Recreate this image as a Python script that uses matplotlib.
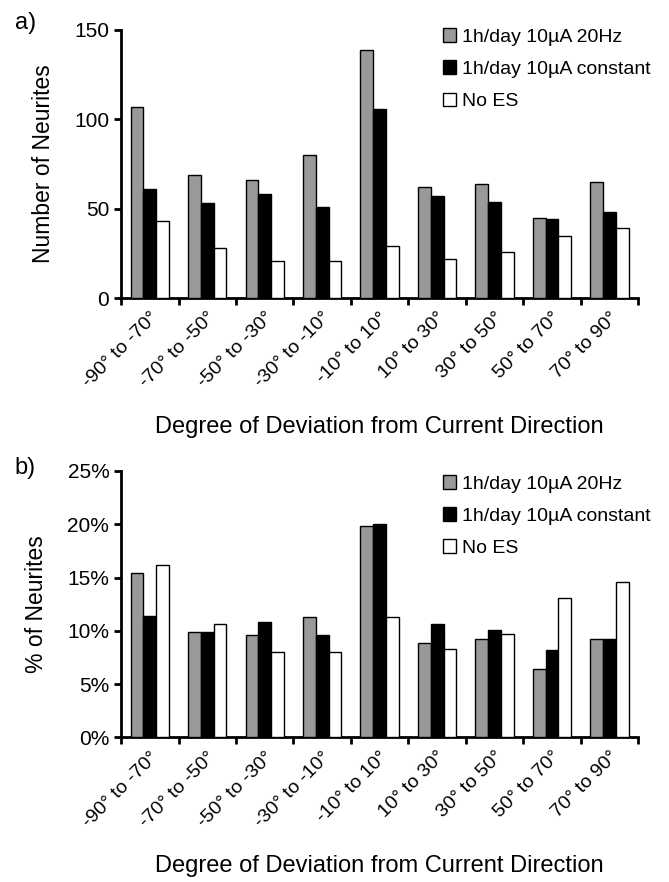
import numpy as np
import matplotlib.pyplot as plt

plt.rcParams['font.family'] = ['Liberation Sans', 'DejaVu Sans']

categories = ["-90° to -70°", "-70° to -50°", "-50° to -30°", "-30° to -10°",
              "-10° to 10°", "10° to 30°", "30° to 50°", "50° to 70°", "70° to 90°"]
series_names = ["1h/day 10µA 20Hz", "1h/day 10µA constant", "No ES"]

# panel a) counts
count_20hz = [107, 69, 66, 80, 139, 62, 64, 45, 65]
count_const = [61, 53, 58, 51, 106, 57, 54, 44, 48]
count_noes = [43, 28, 21, 21, 29, 22, 26, 35, 39]

# panel b) percent
pct_20hz = [15.4, 9.9, 9.6, 11.3, 19.8, 8.9, 9.2, 6.4, 9.2]
pct_const = [11.4, 9.9, 10.8, 9.6, 20.0, 10.6, 10.1, 8.2, 9.2]
pct_noes = [16.2, 10.6, 8.0, 8.0, 11.3, 8.3, 9.7, 13.1, 14.6]

colors = ['#999999', '#000000', '#ffffff']

fig = plt.figure(figsize=(6.69, 8.82), dpi=100)
ax1 = fig.add_axes([0.181, 0.662, 0.773, 0.304])
ax2 = fig.add_axes([0.181, 0.164, 0.773, 0.302])

x = np.arange(len(categories)) + 0.5
w = 0.223


def draw(ax, data, yticks, yfmt, ylabel, legend_y):
    for k, vals in enumerate(data):
        ax.bar(x + (k - 1) * w, vals, w, color=colors[k], edgecolor='black',
               linewidth=1.0, label=series_names[k], zorder=3)
    ax.set_xlim(0, len(categories))
    ax.set_ylim(yticks[0], yticks[-1])
    ax.set_yticks(yticks)
    ax.set_yticklabels([yfmt(v) for v in yticks], fontsize=15)
    ax.set_xticks(np.arange(len(categories) + 1))
    ax.set_xticklabels([])
    ax.set_xticks(x, minor=True)
    ax.set_xticklabels(categories, minor=True, rotation=45, ha='right',
                       va='top', rotation_mode='anchor', fontsize=14)
    ax.tick_params(axis='x', which='minor', length=0, pad=8)
    ax.tick_params(axis='both', which='major', width=2, length=5)
    for s in ['top', 'right']:
        ax.spines[s].set_visible(False)
    for s in ['left', 'bottom']:
        ax.spines[s].set_linewidth(2)
    ax.set_ylabel(ylabel, fontsize=16.5, labelpad=14)
    ax.set_xlabel("Degree of Deviation from Current Direction", fontsize=17,
                  labelpad=18)
    ax.legend(loc='upper left', bbox_to_anchor=(0.647, legend_y),
              bbox_transform=fig.transFigure, frameon=False, fontsize=14,
              handlelength=0.7, handleheight=0.7, handletextpad=0.3,
              labelspacing=0.75, borderpad=0)


draw(ax1, [count_20hz, count_const, count_noes], [0, 50, 100, 150],
     lambda v: f"{v}", "Number of Neurites", 0.979)
draw(ax2, [pct_20hz, pct_const, pct_noes], [0, 5, 10, 15, 20, 25],
     lambda v: f"{v}%", "% of Neurites", 0.4725)

fig.text(0.022, 0.986, "a)", fontsize=17, va='top')
fig.text(0.022, 0.482, "b)", fontsize=17, va='top')

fig.savefig("out.png", dpi=100)
